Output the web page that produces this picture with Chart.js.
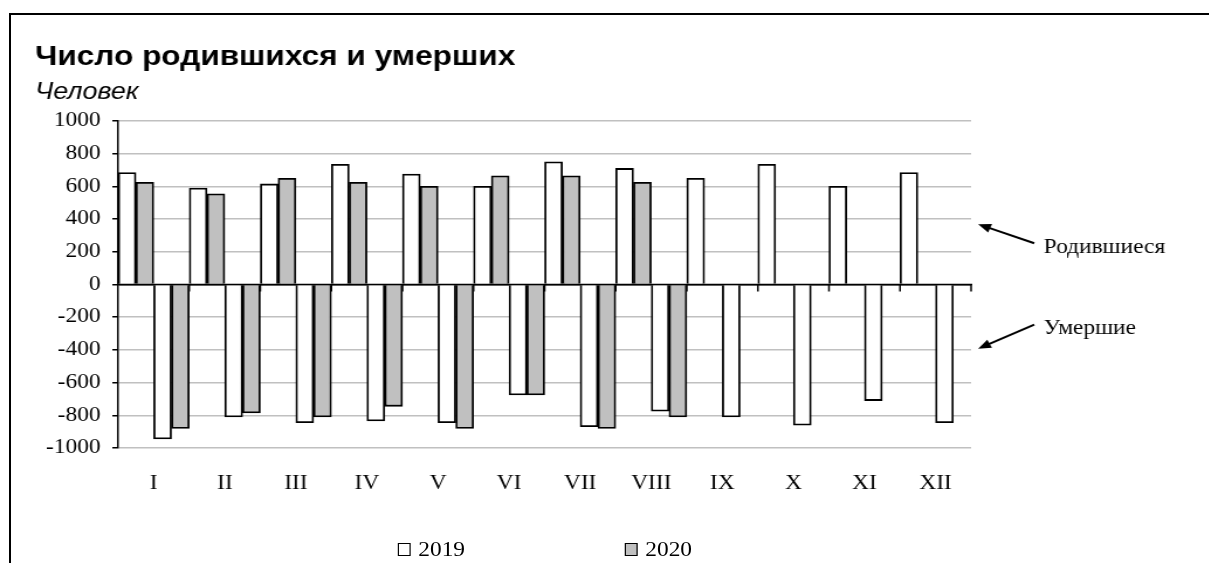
<!DOCTYPE html>
<html lang="ru">
  <head>
    <meta charset="UTF-8" />
    <meta name="viewport" content="width=device-width, initial-scale=1.0" />
    <title>Число родившихся и умерших</title>
    <script src="https://cdn.jsdelivr.net/npm/chart.js"></script>
    <style>
      body {
        margin: 0;
        width: 1209px;
        height: 563px;
        overflow: hidden;
        position: relative;
        background: #fff;
        font-family: "Liberation Serif", serif;
      }

      /* frame of the original picture (only top and left edges visible) */
      .frame {
        position: absolute;
        left: 9px;
        top: 13px;
        width: 1300px;
        height: 700px;
        border-top: 2px solid #000;
        border-left: 2px solid #000;
      }

      /* the source image is stretched horizontally a bit */
      .stretch {
        position: absolute;
        left: 0;
        top: 0;
        width: 1033px;
        height: 563px;
        transform: scaleX(1.17);
        transform-origin: 0 0;
      }

      .legend {
        position: absolute;
        top: 539px;
        height: 20px;
        display: flex;
        align-items: center;
        font-size: 20px;
        color: #000;
        white-space: nowrap;
        transform: translateX(-50%);
      }
      .legend .item {
        display: flex;
        align-items: center;
        flex-shrink: 0;
      }
      .legend .item + .item {
        margin-left: 136px;
      }
      .legend .box {
        flex-shrink: 0;
        width: 11px;
        height: 13px;
        box-sizing: border-box;
        border: 1.5px solid #000;
        margin-right: 7px;
      }
    </style>
  </head>
  <body>
    <div class="frame"></div>
    <div class="stretch">
      <canvas id="vitalChart"></canvas>
      <div class="legend" id="legend"></div>
    </div>

    <script>
      const months = ["I", "II", "III", "IV", "V", "VI", "VII", "VIII", "IX", "X", "XI", "XII"]

      // births (positive) and deaths (negative), persons
      const born2019 = [685, 590, 615, 735, 675, 600, 750, 710, 650, 735, 600, 685]
      const born2020 = [625, 555, 650, 625, 600, 665, 665, 625, null, null, null, null]
      const died2019 = [-945, -810, -845, -835, -845, -675, -870, -775, -810, -860, -710, -845]
      const died2020 = [-880, -785, -810, -745, -880, -675, -880, -810, null, null, null, null]

      // side notes: label level, arrow tail and arrow tip (in axis units)
      const notes = [
        { text: "Родившиеся", at: 227, from: 252, to: 369 },
        { text: "Умершие", at: -270, from: -245, to: -393 },
      ]

      Chart.defaults.font.family = "'Liberation Serif', serif"
      Chart.defaults.color = "#000"

      const legend = document.getElementById("legend")

      const sideNotes = {
        id: "sideNotes",
        afterDatasetsDraw(chart) {
          const { ctx, chartArea: a, scales } = chart
          const y = scales.y
          const y0 = y.getPixelForValue(0)
          const step = (a.right - a.left) / months.length

          ctx.save()
          ctx.strokeStyle = "#000"
          ctx.fillStyle = "#000"

          // horizontal axis through zero with category ticks
          ctx.lineWidth = 1.5
          ctx.beginPath()
          ctx.moveTo(a.left, y0)
          ctx.lineTo(a.right + 1, y0)
          for (let i = 1; i <= months.length; i++) {
            const px = a.left + step * i
            ctx.moveTo(px, y0)
            ctx.lineTo(px, y0 + 7)
          }
          ctx.stroke()

          // arrows and labels on the right
          ctx.font = "20px 'Liberation Serif'"
          ctx.textBaseline = "middle"
          notes.forEach((n) => {
            const tipX = a.right + 6
            const tailX = a.right + 54
            const tipY = y.getPixelForValue(n.to)
            const tailY = y.getPixelForValue(n.from)
            const ang = Math.atan2(tipY - tailY, tipX - tailX)
            const c = Math.cos(ang)
            const s = Math.sin(ang)
            ctx.lineWidth = 2
            ctx.beginPath()
            ctx.moveTo(tailX, tailY)
            ctx.lineTo(tipX - 8 * c, tipY - 8 * s)
            ctx.stroke()
            ctx.beginPath()
            ctx.moveTo(tipX, tipY)
            ctx.lineTo(tipX - 11 * c + 4.5 * s, tipY - 11 * s - 4.5 * c)
            ctx.lineTo(tipX - 11 * c - 4.5 * s, tipY - 11 * s + 4.5 * c)
            ctx.closePath()
            ctx.fill()
            ctx.fillText(n.text, a.right + 62, y.getPixelForValue(n.at))
          })
          ctx.restore()
        },
        // keep the html legend centred under the plot after every resize
        afterRender(chart) {
          const a = chart.chartArea
          legend.style.left = (a.left + a.right) / 2 + "px"
        },
      }

      const white = { backgroundColor: "#ffffff", borderColor: "#000", borderWidth: 1.8 }
      const grey = { backgroundColor: "#c0c0c0", borderColor: "#000", borderWidth: 1.8 }

      const ctx = document.getElementById("vitalChart").getContext("2d")
      const chart = new Chart(ctx, {
        type: "bar",
        data: {
          labels: months,
          datasets: [
            { label: "2019", data: born2019, ...white },
            { label: "2020", data: born2020, ...grey },
            { label: "2019", data: died2019, ...white },
            { label: "2020", data: died2020, ...grey },
          ],
        },
        options: {
          responsive: true,
          maintainAspectRatio: false,
          animation: false,
          categoryPercentage: 1,
          barPercentage: 1,
          layout: {
            padding: { left: 30, right: 203, top: 0, bottom: 55 },
          },
          plugins: {
            legend: { display: false },
            tooltip: { enabled: false },
            title: {
              display: true,
              text: "Число родившихся и умерших",
              align: "start",
              color: "#000",
              font: { family: "'Liberation Sans', Arial, sans-serif", size: 27, weight: "bold" },
              padding: { top: 41, bottom: 0 },
            },
            subtitle: {
              display: true,
              text: "Человек",
              align: "start",
              color: "#000",
              font: { family: "'Liberation Sans', Arial, sans-serif", size: 23, style: "italic" },
              padding: { top: 5.8, bottom: 14.2 },
            },
          },
          scales: {
            x: {
              grid: { display: false },
              border: { display: false },
              ticks: {
                font: { size: 20 },
                padding: 16,
                maxRotation: 0,
                autoSkip: false,
              },
              afterFit(scale) {
                scale.height = 60
              },
            },
            y: {
              min: -1000,
              max: 1000,
              border: { color: "#000", width: 1.5 },
              grid: {
                color: (c) => (c.tick && c.tick.value === 0 ? "#000" : "#c0c0c0"),
                lineWidth: 1.5,
                tickColor: "#000",
                tickLength: 5,
              },
              ticks: {
                stepSize: 200,
                font: { size: 20 },
                padding: 10,
                callback: (v) => String(v),
              },
              afterFit(scale) {
                scale.width = 71
              },
            },
          },
        },
        plugins: [sideNotes],
      })

      // legend built from the first two datasets (one per year)
      chart.data.datasets.slice(0, 2).forEach((ds) => {
        const item = document.createElement("span")
        item.className = "item"
        const box = document.createElement("span")
        box.className = "box"
        box.style.background = ds.backgroundColor
        item.appendChild(box)
        item.appendChild(document.createTextNode(ds.label))
        legend.appendChild(item)
      })
    </script>
  </body>
</html>
